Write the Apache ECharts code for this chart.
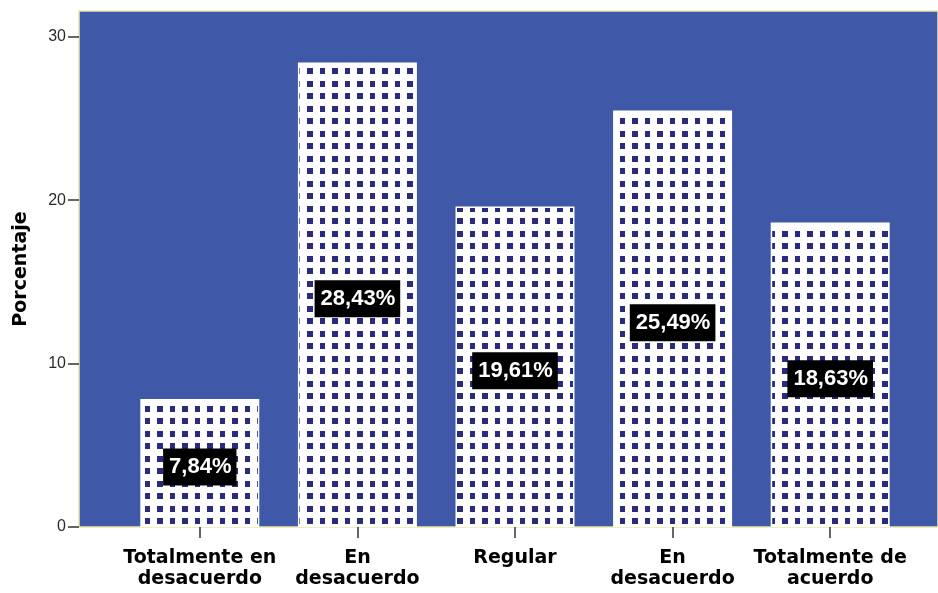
<!DOCTYPE html>
<html>
<head>
<meta charset="utf-8">
<script src="https://cdn.jsdelivr.net/npm/echarts@6/dist/echarts.min.js"></script>
<style>
  html, body { margin: 0; padding: 0; background: #ffffff; }
  #chart { width: 938px; height: 593px; }
</style>
</head>
<body>
<div id="chart"></div>
<script>
// Response categories and their share of answers (%)
const categories = ['Totalmente en\ndesacuerdo', 'En\ndesacuerdo', 'Regular', 'En\ndesacuerdo', 'Totalmente de\nacuerdo'];
const percentages = [7.84, 28.43, 19.61, 25.49, 18.63];
const yTicks = [0, 10, 20, 30];
const yMax = 31.58;

// Dotted fill used for the bars: navy squares on white
function dotTile() {
  const c = document.createElement('canvas');
  c.width = 25; c.height = 25;
  const g = c.getContext('2d');
  g.fillStyle = '#ffffff';
  g.fillRect(0, 0, 25, 25);
  g.fillStyle = '#2b2b7b';
  [[7, 6], [20, 6], [7, 18], [20, 18]].forEach(([x, y]) => g.fillRect(x, y, 6, 6));
  return c;
}

const chart = echarts.init(document.getElementById('chart'), null, { renderer: 'canvas' });

chart.setOption({
  animation: false,
  grid: [
    // plot frame with the blue background and the value axis
    { left: 79, top: 11, right: -2, bottom: 66, show: true,
      backgroundColor: '#3f58a8', borderColor: '#e9e7a6', borderWidth: 1.5 },
    // band area holding the bars
    { left: 121, top: 11, right: 29, bottom: 66 }
  ],
  xAxis: [
    { gridIndex: 0, type: 'value', show: false, min: 0, max: 1 },
    {
      gridIndex: 1,
      type: 'category',
      data: categories,
      axisLine: { show: false },
      axisTick: { show: true, alignWithLabel: true, length: 11, lineStyle: { color: '#333333', width: 1.5 } },
      axisLabel: {
        margin: 21,
        interval: 0,
        color: '#000000',
        fontFamily: 'DejaVu Sans',
        fontWeight: 'bold',
        fontSize: 19,
        lineHeight: 21
      }
    }
  ],
  yAxis: [
    {
      gridIndex: 0,
      type: 'value',
      min: 0,
      max: yMax,
      name: 'Porcentaje',
      nameLocation: 'middle',
      nameGap: 48,
      nameTextStyle: { fontFamily: 'DejaVu Sans', fontWeight: 'bold', fontSize: 19, color: '#000000' },
      axisLine: { show: false },
      splitLine: { show: false },
      axisTick: { show: true, length: 11, customValues: yTicks, lineStyle: { color: '#333333', width: 1.5 } },
      axisLabel: {
        customValues: yTicks,
        margin: 13,
        color: '#2a2a2a',
        fontFamily: 'Liberation Sans',
        fontSize: 16
      }
    },
    { gridIndex: 1, type: 'value', min: 0, max: yMax, show: false }
  ],
  series: [
    {
      type: 'bar',
      xAxisIndex: 1,
      yAxisIndex: 1,
      data: percentages,
      barWidth: '75.5%',
      itemStyle: {
        color: { image: dotTile(), repeat: 'repeat' },
        borderColor: '#ffffff',
        borderWidth: 1.5
      },
      label: {
        show: true,
        position: 'inside',
        offset: [0, 4],
        formatter: p => p.value.toFixed(2).replace('.', ',') + '%',
        color: '#ffffff',
        backgroundColor: '#000000',
        fontFamily: 'Liberation Sans',
        fontWeight: 'bold',
        fontSize: 22,
        lineHeight: 24,
        padding: [7, 5, 6, 6]
      }
    }
  ]
});
</script>
</body>
</html>
